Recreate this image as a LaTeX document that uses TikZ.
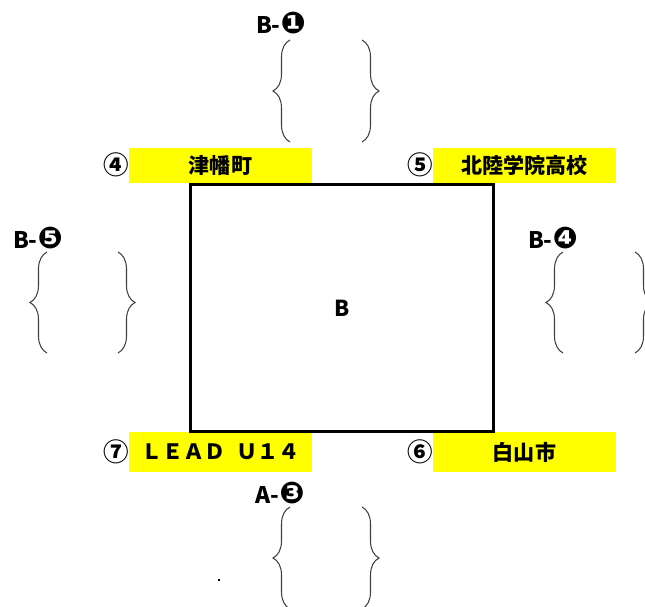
\documentclass[tikz,border=0pt]{standalone}
\usepackage{fontspec}
\usetikzlibrary{decorations.pathreplacing}
\newfontfamily\jpfont{Noto Sans CJK JP}
\newfontfamily\dingfont{DejaVu Sans}
\definecolor{teamyellow}{RGB}{255,255,0}

\begin{document}
\begin{tikzpicture}[x=0.02cm,y=-0.02cm,
	team/.style={fill=teamyellow,inner sep=0pt,minimum width=3.66cm,font=\jpfont\bfseries\fontsize{12}{14}\selectfont},
	num/.style={inner sep=0pt,font=\jpfont\bfseries\fontsize{14.5}{16}\selectfont},
	slot/.style={inner sep=0pt,font=\jpfont\bfseries\fontsize{13}{14}\selectfont},
	bracket/.style={decorate,decoration={brace,amplitude=0.34cm},draw=black!75,line width=0.6pt}]
	\useasboundingbox (0,0) rectangle (645,607);
	% teams
	\node[team,minimum height=0.7cm] (tsubata) at (220.5,165.5) {津幡町};
	\node[team,minimum height=0.7cm] (hokuriku) at (524.5,165.5) {北陸学院高校};
	\node[team,minimum height=0.8cm] (lead) at (220.5,452) {ＬＥＡＤ\hspace{0.5em}Ｕ１４};
	\node[team,minimum height=0.8cm] (hakusan) at (524.5,452) {白山市};
	\node[num] (n4) at (116,165) {④};
	\node[num] (n5) at (420,165) {⑤};
	\node[num] (n7) at (116,452) {⑦};
	\node[num] (n6) at (420,452) {⑥};
	% center
	\node[draw,line width=1.7pt,minimum width=6.08cm,minimum height=4.96cm,inner sep=0pt,
		font=\jpfont\bfseries\fontsize{12.5}{14}\selectfont] (court) at (342,308) {B};
	% slots
	\node[slot] (top) at (281,23) {B-{\dingfont\fontsize{17}{18}\selectfont ❶}};
	\node[slot] (left) at (38,238) {B-{\dingfont\fontsize{17}{18}\selectfont ❺}};
	\node[slot] (right) at (553,238) {B-{\dingfont\fontsize{17}{18}\selectfont ❹}};
	\node[slot] (bottom) at (280,493) {A-{\dingfont\fontsize{17}{18}\selectfont ❸}};
	\draw[bracket] (290,142) -- (290,40);
	\draw[bracket] (362,40) -- (362,142);
	\draw[bracket] (47,353) -- (47,252);
	\draw[bracket] (118,252) -- (118,353);
	\draw[bracket] (563,353) -- (563,252);
	\draw[bracket] (635,252) -- (635,353);
	\draw[bracket] (290,609) -- (290,507);
	\draw[bracket] (362,507) -- (362,609);
	\draw[line width=0.6pt] (218,580) -- (220,580);
\end{tikzpicture}
\end{document}
